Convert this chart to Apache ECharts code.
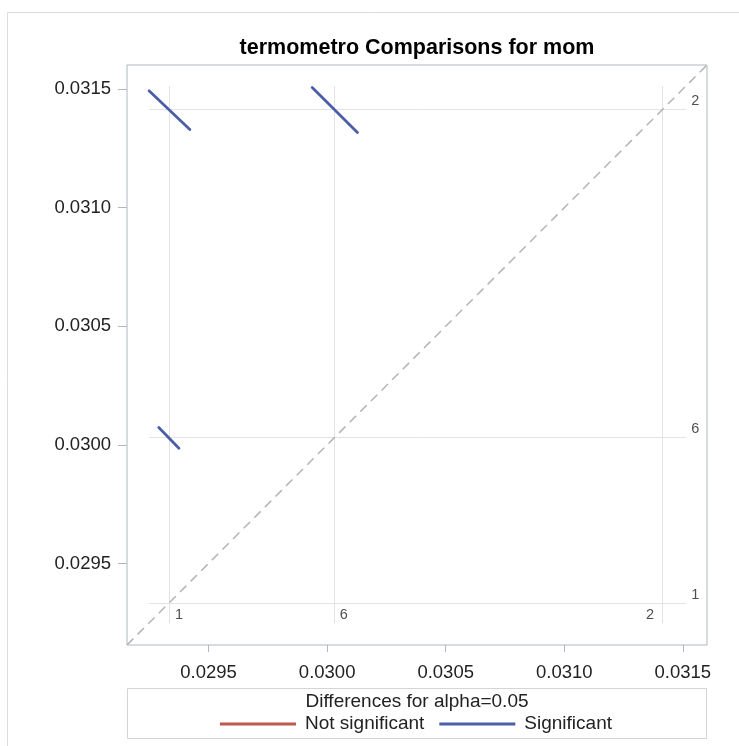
<!DOCTYPE html>
<html>
<head>
<meta charset="utf-8">
<script src="https://cdn.jsdelivr.net/npm/echarts@6/dist/echarts.min.js"></script>
<style>
html,body{margin:0;padding:0;background:#fff;}
#chart{width:739px;height:746px;}
</style>
</head>
<body>
<div id="chart"></div>
<script>
// ---- data ----
const axisRange = [0.029156, 0.031602];
const tickValues = [0.0295, 0.0300, 0.0305, 0.0310, 0.0315];
const groupLabels = ['1', '6', '2'];
const lsMeans = [0.029333, 0.030032, 0.031414];
const refLineRange = [0.029248, 0.031513];
// significant pair segments: [[x0,y0],[x1,y1]]
const sigSeg12 = [[0.029249, 0.031493], [0.029421, 0.031330]];
const sigSeg62 = [[0.029937, 0.031507], [0.030128, 0.031317]];
const sigSeg16 = [[0.029290, 0.030073], [0.029375, 0.029986]];
const significantSegments = [sigSeg12, sigSeg62, sigSeg16];
const notSignificantSegments = [];

const FONT = 'Liberation Sans, Arial, sans-serif';
const BLUE = '#4b5fa6';
const RED = '#bd5a4d';
const FRAME = '#b0b7bd';

// reference lines
const refLines = [];
lsMeans.forEach(m => {
  refLines.push({coords: [[m, refLineRange[0]], [m, refLineRange[1]]]});
  refLines.push({coords: [[refLineRange[0], m], [refLineRange[1], m]]});
});

// reference line labels
const bottomOffsets = [[10, -8.5], [9, -8.5], [-12.5, -8]];
const labelData = [];
lsMeans.forEach((m, i) => {
  labelData.push({value: [m, refLineRange[0]], label: {formatter: groupLabels[i], offset: bottomOffsets[i]}});
  labelData.push({value: [refLineRange[1], m], label: {formatter: groupLabels[i], offset: [9.5, -8.5]}});
});

const chart = echarts.init(document.getElementById('chart'), null, {renderer: 'canvas'});
chart.setOption({
  animation: false,
  backgroundColor: '#fff',
  title: {
    text: 'termometro Comparisons for mom',
    left: 417, top: 37, padding: 0, textAlign: 'center',
    textStyle: {fontFamily: FONT, fontSize: 21.5, fontWeight: 'bold', color: '#000'}
  },
  grid: {left: 127, top: 65, width: 580, height: 580, show: true, borderColor: FRAME, borderWidth: 1, backgroundColor: 'transparent'},
  xAxis: {
    type: 'value', min: axisRange[0], max: axisRange[1],
    axisLine: {show: false},
    splitLine: {show: false},
    axisTick: {show: true, length: 7, customValues: tickValues, lineStyle: {color: FRAME}},
    axisLabel: {customValues: tickValues, margin: 18, formatter: v => v.toFixed(4),
      fontFamily: FONT, fontSize: 18.5, color: '#222'}
  },
  yAxis: {
    type: 'value', min: axisRange[0], max: axisRange[1],
    axisLine: {show: false},
    splitLine: {show: false},
    axisTick: {show: true, length: 9, customValues: tickValues, lineStyle: {color: FRAME}},
    axisLabel: {customValues: tickValues, margin: 16, formatter: v => v.toFixed(4),
      fontFamily: FONT, fontSize: 18.5, color: '#222'}
  },
  legend: {
    left: 220, top: 713, padding: 0, itemGap: 15,
    itemWidth: 76, itemHeight: 3,
    icon: 'path://M0,0H76V3H0Z',
    textStyle: {fontFamily: FONT, fontSize: 19, color: '#222', padding: [0, 0, 0, 4], lineHeight: 22},
    data: [
      {name: 'Not significant', itemStyle: {color: RED, borderWidth: 0}},
      {name: 'Significant', itemStyle: {color: BLUE, borderWidth: 0}}
    ]
  },
  graphic: [
    {type: 'rect', shape: {x: 7.5, y: 12.5, width: 800, height: 800}, style: {fill: 'none', stroke: '#dcdcdc', lineWidth: 1}, silent: true, z: -10},
    {type: 'rect', shape: {x: 127.5, y: 688.5, width: 579, height: 50}, style: {fill: 'none', stroke: '#d4d4d4', lineWidth: 1}, silent: true},
    {type: 'text', x: 417, y: 702, style: {text: 'Differences for alpha=0.05', fontFamily: FONT, fontSize: 19, fill: '#222', textAlign: 'center', textVerticalAlign: 'middle'}, silent: true}
  ],
  series: [
    {
      name: 'ref', type: 'lines', coordinateSystem: 'cartesian2d', silent: true, z: 1,
      lineStyle: {color: '#e3e3e3', width: 1, opacity: 1},
      data: refLines
    },
    {
      name: 'diag', type: 'line', silent: true, z: 2, symbol: 'none', clip: true,
      lineStyle: {color: '#b4b4b4', width: 1.5, type: [9, 6]},
      data: [[axisRange[0], axisRange[0]], [axisRange[1], axisRange[1]]]
    },
    {
      name: 'Not significant', type: 'lines', coordinateSystem: 'cartesian2d', z: 3,
      itemStyle: {color: RED},
      lineStyle: {color: RED, width: 2.8, opacity: 1, cap: 'round'},
      data: notSignificantSegments.map(s => ({coords: s}))
    },
    {
      name: 'Significant', type: 'lines', coordinateSystem: 'cartesian2d', z: 3,
      itemStyle: {color: BLUE},
      lineStyle: {color: BLUE, width: 2.8, opacity: 1, cap: 'round'},
      data: significantSegments.map(s => ({coords: s}))
    },
    {
      name: 'labels', type: 'scatter', silent: true, z: 4, symbolSize: 0,
      label: {show: true, position: 'inside', fontFamily: FONT, fontSize: 14.5, color: '#222'},
      data: labelData
    }
  ]
});
</script>
</body>
</html>
